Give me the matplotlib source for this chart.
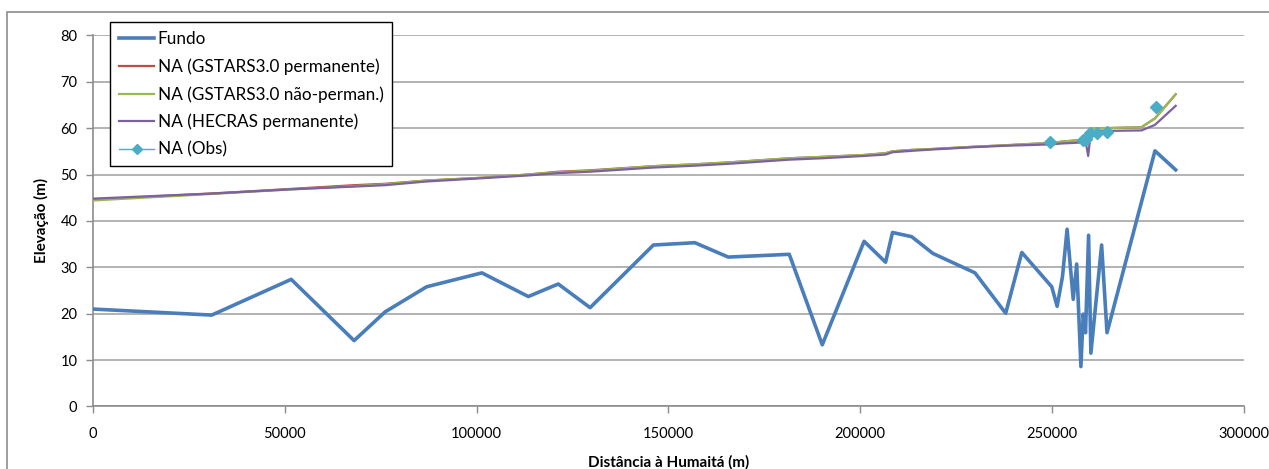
import matplotlib
matplotlib.use('Agg')
import matplotlib.pyplot as plt
from matplotlib.lines import Line2D
from matplotlib.patches import Rectangle

plt.rcParams['font.family'] = ['Lato', 'DejaVu Sans']

# bed profile (Fundo)
dist = [0, 31000, 51700, 68100, 76200, 87000, 101400, 113500, 121300, 129600,
        146100, 156900, 165600, 181500, 190100, 201000, 206600, 208400, 213400,
        218900, 229900, 237900, 242100, 249900, 251300, 252700, 253900, 255500,
        256400, 257500, 258100, 258700, 259500, 260100, 262900, 264300, 276800,
        282200]
fundo = [21.0, 19.7, 27.4, 14.2, 20.4, 25.8, 28.8, 23.7, 26.4, 21.3,
         34.8, 35.3, 32.2, 32.8, 13.3, 35.6, 31.1, 37.5, 36.6,
         33.0, 28.8, 20.1, 33.2, 25.8, 21.6, 28.0, 38.2, 23.1,
         30.7, 8.6, 19.9, 15.9, 36.9, 11.5, 34.8, 15.9, 55.1,
         51.0]

# water surface (NA)
na_dist = [0, 31000, 51700, 68100, 76200, 87000, 101400, 113500, 121300, 129600,
           146100, 156900, 165600, 181500, 190100, 201000, 206600, 208400, 213400,
           218900, 229900, 237900, 242100, 249900, 252700, 255500, 257500, 258700,
           259400, 260100, 264300, 273300, 276800, 282200]
na_gstars_perm = [44.6, 45.9, 46.9, 47.7, 48.0, 48.7, 49.3, 50.0, 50.6, 50.9,
                  51.8, 52.2, 52.6, 53.5, 53.8, 54.2, 54.6, 55.0, 55.3,
                  55.5, 56.0, 56.3, 56.5, 56.8, 57.1, 57.3, 57.4, 57.5,
                  57.6, 60.0, 60.0, 60.2, 62.1, 67.3]
na_gstars_nperm = [44.4, 45.8, 46.8, 47.5, 47.9, 48.7, 49.3, 50.0, 50.5, 50.8,
                   51.8, 52.2, 52.6, 53.5, 53.8, 54.2, 54.6, 55.0, 55.3,
                   55.5, 56.0, 56.3, 56.5, 56.8, 57.1, 57.3, 57.4, 57.5,
                   57.6, 60.0, 60.0, 60.2, 62.1, 67.3]
na_hecras = [44.8, 45.9, 46.8, 47.4, 47.7, 48.5, 49.2, 49.8, 50.3, 50.6,
             51.5, 51.9, 52.3, 53.2, 53.5, 54.0, 54.3, 54.8, 55.1,
             55.4, 55.9, 56.2, 56.3, 56.5, 56.7, 56.8, 56.9, 57.2,
             54.0, 59.4, 59.4, 59.5, 60.7, 64.8]

# observed water levels
obs_dist = [249400, 258100, 258800, 259900, 261600, 264200, 277000]
obs = [57.1, 57.4, 57.6, 58.9, 59.0, 59.2, 64.5]

fig = plt.figure(figsize=(12.69, 4.69), dpi=100)
ax = fig.add_axes([0.0731, 0.1333, 0.9072, 0.7914])

# outer chart border
fig.patches.append(Rectangle((7 / 1269, -0.1), 1.2, 1 - 12 / 469 + 0.1,
                             transform=fig.transFigure, fill=False,
                             edgecolor='#8c8c8c', linewidth=1.2))

ax.plot(dist, fundo, color='#4a7ebb', lw=2.6, label='Fundo', zorder=3)
ax.plot(na_dist, na_gstars_perm, color='#be4b48', lw=1.6,
        label='NA (GSTARS3.0 permanente)', zorder=4)
ax.plot(na_dist, na_gstars_nperm, color='#98b954', lw=1.6,
        label='NA (GSTARS3.0 não-perman.)', zorder=5)
ax.plot(na_dist, na_hecras, color='#7d60a0', lw=1.6,
        label='NA (HECRAS permanente)', zorder=6)
ax.plot(obs_dist, obs, linestyle='none', marker='D', ms=6,
        color='#4bacc6', zorder=7)

ax.set_xlim(0, 300000)
ax.set_ylim(0, 80)
ax.set_xticks(range(0, 300001, 50000))
ax.set_yticks(range(0, 81, 10))
ax.grid(axis='y', color='#a6a6a6', lw=1.2)
ax.set_axisbelow(True)
for s in ['top', 'right']:
    ax.spines[s].set_visible(False)
for s in ['left', 'bottom']:
    ax.spines[s].set_color('#8c8c8c')
    ax.spines[s].set_linewidth(1.2)
ax.tick_params(axis='both', colors='#8c8c8c', labelcolor='black',
               labelsize=10.5, length=5, width=1)
ax.tick_params(axis='x', pad=10)
ax.tick_params(axis='y', pad=6)

ax.set_xlabel('Distância à Humaitá (m)', fontsize=11, fontweight='bold',
              labelpad=10)
ax.set_ylabel('Elevação (m)', fontsize=11, fontweight='bold', labelpad=8)

handles, labels = ax.get_legend_handles_labels()
handles.append(Line2D([], [], color='#4bacc6', lw=1, marker='D', ms=5))
labels.append('NA (Obs)')
leg = ax.legend(handles, labels, loc='upper left', bbox_to_anchor=(0.015, 1.035),
                fontsize=12.3, fancybox=False, framealpha=1, edgecolor='black',
                handlelength=2.1, handletextpad=0.2, labelspacing=0.66,
                borderpad=0.5, borderaxespad=0)
leg.get_frame().set_linewidth(1.0)
leg.set_zorder(10)

fig.savefig('out.png', dpi=100)
